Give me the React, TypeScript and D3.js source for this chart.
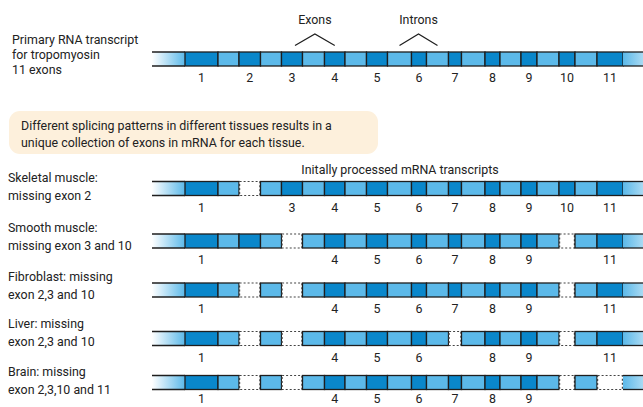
import React, { useEffect, useRef } from 'react';
import * as d3 from 'd3';

// segment lengths along the transcript (arbitrary units)
const leaderLength = 33;
const exonLengths = [33, 21.5, 21, 20.5, 21, 15, 13, 15, 16, 16, 26];
const intronLengths = [21, 21, 22, 21.5, 24, 22, 23.5, 21, 22, 22];
const trailerLength = 20;

const exonNumbers = ['1', '2', '3', '4', '5', '6', '7', '8', '9', '10', '11'];

const primaryLabel = ['Primary RNA transcript', 'for tropomyosin', '11 exons'];
const noteLines = [
  'Different splicing patterns in different tissues results in a',
  'unique collection of exons in mRNA for each tissue.',
];
const mrnaTitle = 'Initally processed mRNA transcripts';

const tissueNames = [
  ['Skeletal muscle:', 'missing exon 2'],
  ['Smooth muscle:', 'missing exon 3 and 10'],
  ['Fibroblast: missing', 'exon 2,3 and 10'],
  ['Liver: missing', 'exon 2,3 and 10'],
  ['Brain: missing', 'exon 2,3,10 and 11'],
];
const tissueMissing = [[2], [3, 10], [2, 3, 10], [2, 3, 7, 10], [2, 3, 10, 11]];
const tissueUnlabelled = [[], [2], [], [], []];

const DARK = '#0a87cb';
const LIGHT = '#5cb9e9';
const LINE = '#1e1e1e';
const TEXT = '#222';
const FONT = 'Roboto, "Open Sans", sans-serif';
const FS = 12.4;

type Seg = { kind: 'leader' | 'exon' | 'intron' | 'trailer'; start: number; end: number; exon?: number };

function buildSegments(): Seg[] {
  const segs: Seg[] = [];
  let pos = 0;
  segs.push({ kind: 'leader', start: pos, end: pos + leaderLength });
  pos += leaderLength;
  exonLengths.forEach((len, i) => {
    segs.push({ kind: 'exon', start: pos, end: pos + len, exon: i + 1 });
    pos += len;
    if (i < intronLengths.length) {
      segs.push({ kind: 'intron', start: pos, end: pos + intronLengths[i] });
      pos += intronLengths[i];
    }
  });
  segs.push({ kind: 'trailer', start: pos, end: pos + trailerLength });
  return segs;
}

export default function App() {
  const svgRef = useRef<SVGSVGElement>(null);

  useEffect(() => {
    if (!svgRef.current) return;
    const svg = d3.select(svgRef.current);
    svg.selectAll('*').remove();

    const segs = buildSegments();
    const total = segs[segs.length - 1].end;
    const x = d3.scaleLinear().domain([0, total]).range([152, 643]);
    const barH = 14;

    const defs = svg.append('defs');
    const lead = defs.append('linearGradient').attr('id', 'lead');
    lead.append('stop').attr('offset', '0%').attr('stop-color', '#ffffff');
    lead.append('stop').attr('offset', '100%').attr('stop-color', LIGHT);
    const trail = defs.append('linearGradient').attr('id', 'trail');
    trail.append('stop').attr('offset', '0%').attr('stop-color', LIGHT);
    trail.append('stop').attr('offset', '100%').attr('stop-color', '#a9daf3');

    const text = (t: string, tx: number, ty: number, anchor = 'start', size = FS) =>
      svg.append('text')
        .attr('x', tx).attr('y', ty)
        .attr('text-anchor', anchor)
        .attr('font-family', FONT)
        .attr('font-size', size)
        .attr('fill', TEXT)
        .text(t);

    const drawBar = (cy: number, missing: number[], unlabelled: number[]) => {
      const g = svg.append('g');
      const y0 = cy - barH / 2;
      const numY = Math.min(cy + 23, 403);
      segs.forEach(s => {
        const x0 = x(s.start), x1 = x(s.end);
        if (s.kind === 'leader' || s.kind === 'trailer') {
          g.append('rect').attr('x', x0).attr('y', y0).attr('width', x1 - x0).attr('height', barH)
            .attr('fill', s.kind === 'leader' ? 'url(#lead)' : 'url(#trail)');
          [y0, y0 + barH].forEach(ly =>
            g.append('line').attr('x1', x0).attr('x2', x1).attr('y1', ly).attr('y2', ly)
              .attr('stroke', LINE).attr('stroke-width', 1.3));
          return;
        }
        const gone = s.kind === 'exon' && missing.includes(s.exon!);
        if (gone) {
          g.append('rect').attr('x', x0 + 0.6).attr('y', y0).attr('width', x1 - x0 - 1.2).attr('height', barH)
            .attr('fill', '#fff').attr('stroke', '#444').attr('stroke-width', 1.2)
            .attr('stroke-dasharray', '2,2');
        } else {
          g.append('rect').attr('x', x0).attr('y', y0).attr('width', x1 - x0).attr('height', barH)
            .attr('fill', s.kind === 'exon' ? DARK : LIGHT)
            .attr('stroke', LINE).attr('stroke-width', 1.3);
        }
        if (s.kind === 'exon' && !gone && !unlabelled.includes(s.exon!)) {
          text(exonNumbers[s.exon! - 1], (x0 + x1) / 2, numY, 'middle');
        }
      });
    };

    // primary transcript
    primaryLabel.forEach((t, i) => text(t, 12, 44 + i * 15));
    drawBar(59, [], []);

    // Exons / Introns callouts
    const exonSeg3 = segs.find(s => s.exon === 3)!;
    const exonSeg4 = segs.find(s => s.exon === 4)!;
    const exonSeg6 = segs.find(s => s.exon === 6)!;
    const intronAfter6 = segs[segs.indexOf(exonSeg6) + 1];
    const intronBefore6 = segs[segs.indexOf(exonSeg6) - 1];
    const caret = (xa: number, xb: number, label: string) => {
      const mid = (xa + xb) / 2;
      svg.append('path')
        .attr('d', d3.line()([[xa, 45.5], [mid, 34], [xb, 45.5]]))
        .attr('fill', 'none').attr('stroke', LINE).attr('stroke-width', 1.2);
      text(label, mid, 24, 'middle');
    };
    caret((x(exonSeg3.start) + x(exonSeg3.end)) / 2 + 3, (x(exonSeg4.start) + x(exonSeg4.end)) / 2, 'Exons');
    caret((x(intronBefore6.start) + x(intronBefore6.end)) / 2, (x(intronAfter6.start) + x(intronAfter6.end)) / 2, 'Introns');

    // note box
    svg.append('rect').attr('x', 9).attr('y', 111).attr('width', 369).attr('height', 43)
      .attr('rx', 11).attr('fill', '#fdf0dc');
    noteLines.forEach((t, i) => text(t, 21, 130 + i * 17));

    text(mrnaTitle, 400, 174, 'middle');

    const rowCenters = [188.5, 241, 290, 338.5, 382.5];
    const nameBaselines = [182, 232, 281, 328, 376];
    tissueNames.forEach((lines, r) => {
      lines.forEach((t, i) => text(t, 8, nameBaselines[r] + i * 17.5));
      drawBar(rowCenters[r], tissueMissing[r], tissueUnlabelled[r]);
    });
  }, []);

  return (
    <svg
      ref={svgRef}
      width={643}
      height={407}
      style={{ position: 'absolute', left: 0, top: 0, background: '#fff' }}
    />
  );
}
